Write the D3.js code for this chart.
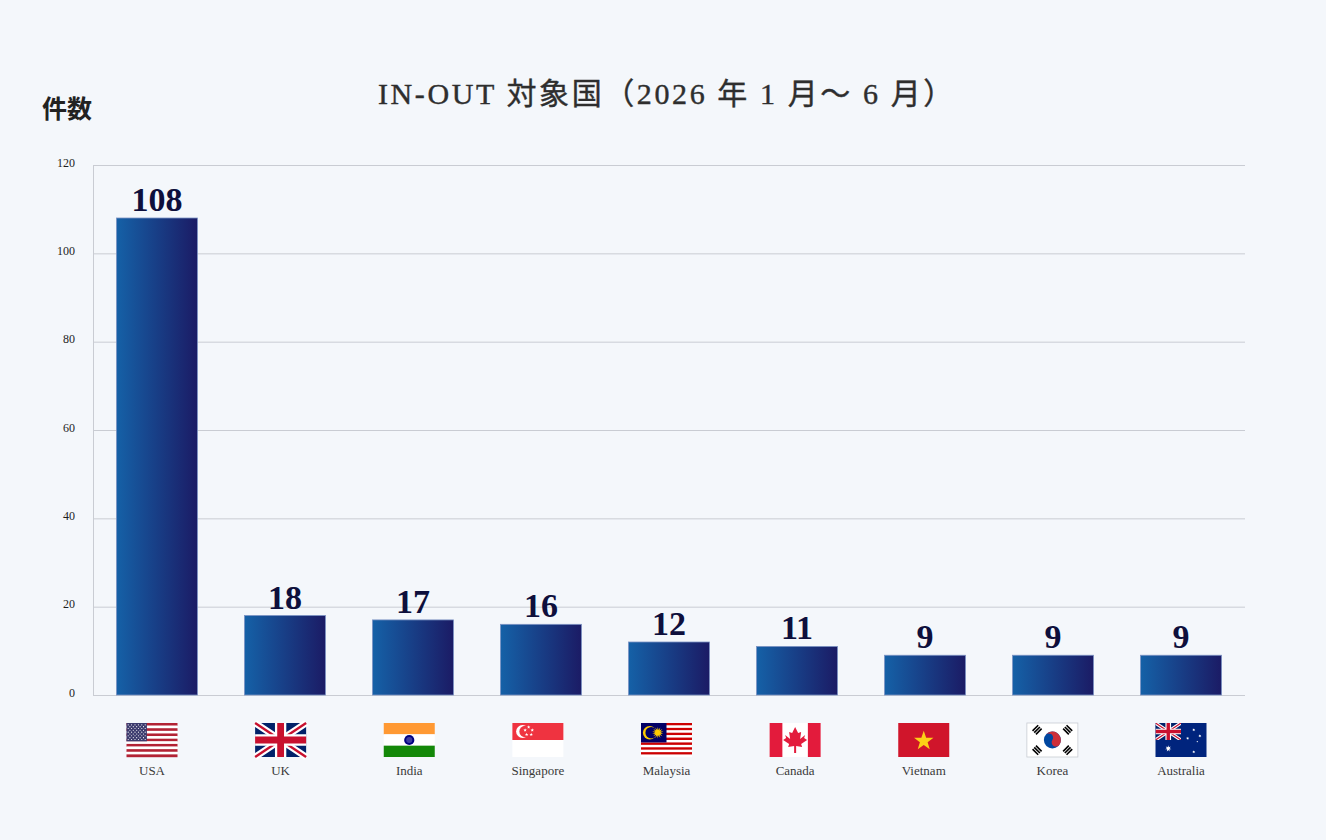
<!DOCTYPE html>
<html lang="ja">
<head>
<meta charset="utf-8">
<title>IN-OUT 対象国</title>
<script src="https://cdn.jsdelivr.net/npm/d3@7"></script>
<style>
  html, body { margin: 0; padding: 0; background: #f4f7fb; }
  #chart { width: 1326px; height: 840px; }
  svg { display: block; }
</style>
</head>
<body>
<div id="chart"></div>
<script>
// chart data
const countries = ["USA", "UK", "India", "Singapore", "Malaysia", "Canada", "Vietnam", "Korea", "Australia"];
const flagCodes = ["us", "gb", "in", "sg", "my", "ca", "vn", "kr", "au"];
const counts = [108, 18, 17, 16, 12, 11, 9, 9, 9];
const yTicks = [0, 20, 40, 60, 80, 100, 120];
const titleText = "IN-OUT 対象国（2026 年 1 月〜 6 月）";
const yAxisTitle = "件数";

const W = 1326, H = 840;
const margin = { top: 165, right: 81, bottom: 145, left: 93 };
const width = W - margin.left - margin.right;
const height = H - margin.top - margin.bottom;

const serif = "'Liberation Serif', 'DejaVu Serif', 'Noto Sans CJK JP', serif";

const svg = d3.select("#chart").append("svg")
  .attr("width", W)
  .attr("height", H)
  .attr("viewBox", `0 0 ${W} ${H}`);

svg.append("rect").attr("width", W).attr("height", H).attr("fill", "#f4f7fb");

// gradient for bars
const defs = svg.append("defs");
const grad = defs.append("linearGradient")
  .attr("id", "barGrad")
  .attr("x1", "0%").attr("x2", "100%")
  .attr("y1", "0%").attr("y2", "0%");
grad.append("stop").attr("offset", "0%").attr("stop-color", "#1561a7");
grad.append("stop").attr("offset", "100%").attr("stop-color", "#1b1b65");

// title
svg.append("text")
  .attr("x", W / 2 + 4)
  .attr("y", 104)
  .attr("text-anchor", "middle")
  .style("font-family", serif)
  .style("font-size", "30px")
  .style("letter-spacing", "2.6px")
  .style("fill", "#2e2e2e")
  .style("stroke", "#2e2e2e")
  .style("stroke-width", "0.4px")
  .text(titleText);

svg.append("text")
  .attr("x", 42)
  .attr("y", 118)
  .style("font-family", serif)
  .style("font-size", "25px")
  .style("font-weight", "bold")
  .style("fill", "#222")
  .text(yAxisTitle);

const g = svg.append("g")
  .attr("transform", `translate(${margin.left},${margin.top})`);

// scales
const x = d3.scaleBand()
  .domain(countries)
  .range([0, width])
  .paddingInner(0.367)
  .paddingOuter(0.183);

// flags/names sit on a slightly different spacing than the bars
const xFlag = d3.scalePoint()
  .domain(countries)
  .range([59, 1088]);

const y = d3.scaleLinear()
  .domain([0, 120])
  .range([height, 0]);

// gridlines + y axis
const yAxis = g.append("g")
  .call(d3.axisLeft(y).tickValues(yTicks).tickSize(-width).tickPadding(18));
yAxis.select(".domain").attr("stroke", "#c9ccd3");
yAxis.selectAll(".tick line").attr("stroke", "#c9ccd3");
yAxis.selectAll(".tick text")
  .style("font-family", serif)
  .style("font-size", "12px")
  .style("fill", "#1e1e1e")
  .attr("dy", "0.1em");

// bars
g.selectAll(".bar")
  .data(countries)
  .enter().append("rect")
  .attr("class", "bar")
  .attr("x", d => x(d))
  .attr("y", (d, i) => y(counts[i]))
  .attr("width", x.bandwidth())
  .attr("height", (d, i) => height - y(counts[i]))
  .attr("fill", "url(#barGrad)")
  .attr("stroke", "#7c93c4")
  .attr("stroke-width", 0.8);

// value labels
g.selectAll(".label")
  .data(countries)
  .enter().append("text")
  .attr("class", "label")
  .attr("x", d => x(d) + x.bandwidth() / 2)
  .attr("y", (d, i) => y(counts[i]) - 7)
  .attr("text-anchor", "middle")
  .style("font-family", serif)
  .style("font-size", "34px")
  .style("font-weight", "bold")
  .style("fill", "#0e0f3c")
  .text((d, i) => counts[i]);

// flag drawing helpers
function star(cx, cy, R, r, n = 5, rot = -90) {
  const pts = [];
  for (let k = 0; k < n * 2; k++) {
    const rad = k % 2 === 0 ? R : r;
    const a = (rot + k * 180 / n) * Math.PI / 180;
    pts.push([cx + rad * Math.cos(a), cy + rad * Math.sin(a)]);
  }
  return "M" + pts.map(p => p.join(",")).join("L") + "Z";
}

function unionJack(f, w, h) {
  f.append("rect").attr("width", w).attr("height", h).attr("fill", "#012169");
  f.append("path").attr("d", `M0,0L${w},${h}M${w},0L0,${h}`)
    .attr("stroke", "#fff").attr("stroke-width", h * 0.2);
  f.append("path").attr("d", `M0,0L${w},${h}M${w},0L0,${h}`)
    .attr("stroke", "#c8102e").attr("stroke-width", h * 0.07);
  f.append("path").attr("d", `M${w / 2},0V${h}M0,${h / 2}H${w}`)
    .attr("stroke", "#fff").attr("stroke-width", h / 3);
  f.append("path").attr("d", `M${w / 2},0V${h}M0,${h / 2}H${w}`)
    .attr("stroke", "#c8102e").attr("stroke-width", h / 5);
}

function drawFlag(f, code, w, h) {
  if (code === "us") {
    for (let k = 0; k < 13; k++) {
      f.append("rect").attr("y", k * h / 13).attr("width", w).attr("height", h / 13 + 0.2)
        .attr("fill", k % 2 === 0 ? "#b22234" : "#fff");
    }
    f.append("rect").attr("width", w * 0.4).attr("height", h * 7 / 13).attr("fill", "#3c3b6e");
    for (let r = 0; r < 9; r++) {
      for (let c = 0; c < (r % 2 ? 5 : 6); c++) {
        f.append("circle")
          .attr("cx", w * 0.4 * ((r % 2 ? 2 : 1) + c * 2) / 12)
          .attr("cy", h * 7 / 13 * (r + 1) / 10)
          .attr("r", 0.55).attr("fill", "#fff");
      }
    }
  } else if (code === "gb") {
    unionJack(f, w, h);
  } else if (code === "in") {
    f.append("rect").attr("width", w).attr("height", h / 3).attr("fill", "#ff9933");
    f.append("rect").attr("y", h / 3).attr("width", w).attr("height", h / 3).attr("fill", "#fff");
    f.append("rect").attr("y", 2 * h / 3).attr("width", w).attr("height", h / 3).attr("fill", "#138808");
    f.append("circle").attr("cx", w / 2).attr("cy", h / 2).attr("r", h * 0.15).attr("fill", "#000080");
    f.append("circle").attr("cx", w / 2).attr("cy", h / 2).attr("r", h * 0.09).attr("fill", "#3a3aa0");
  } else if (code === "sg") {
    f.append("rect").attr("width", w).attr("height", h).attr("fill", "#fff");
    f.append("rect").attr("width", w).attr("height", h / 2).attr("fill", "#ef3340");
    f.append("circle").attr("cx", w * 0.2).attr("cy", h * 0.25).attr("r", h * 0.19).attr("fill", "#fff");
    f.append("circle").attr("cx", w * 0.25).attr("cy", h * 0.25).attr("r", h * 0.17).attr("fill", "#ef3340");
    [[0.3, 0.12], [0.37, 0.21], [0.35, 0.34], [0.26, 0.34], [0.23, 0.21]].forEach(p => {
      f.append("path").attr("d", star(w * p[0] + 1, h * p[1], 1.8, 0.8)).attr("fill", "#fff");
    });
  } else if (code === "my") {
    for (let k = 0; k < 14; k++) {
      f.append("rect").attr("y", k * h / 14).attr("width", w).attr("height", h / 14 + 0.2)
        .attr("fill", k % 2 === 0 ? "#cc0001" : "#fff");
    }
    f.append("rect").attr("width", w / 2).attr("height", h * 8 / 14).attr("fill", "#010066");
    f.append("circle").attr("cx", w * 0.17).attr("cy", h * 0.285).attr("r", h * 0.2).attr("fill", "#fc0");
    f.append("circle").attr("cx", w * 0.2).attr("cy", h * 0.285).attr("r", h * 0.17).attr("fill", "#010066");
    f.append("path").attr("d", star(w * 0.33, h * 0.285, h * 0.17, h * 0.08, 14)).attr("fill", "#fc0");
  } else if (code === "ca") {
    f.append("rect").attr("width", w).attr("height", h).attr("fill", "#fff");
    f.append("rect").attr("width", w / 4).attr("height", h).attr("fill", "#e31b3c");
    f.append("rect").attr("x", w * 0.75).attr("width", w / 4).attr("height", h).attr("fill", "#e31b3c");
    const cx = w / 2, cy = h / 2, s = h / 34;
    const leaf = [[0, -13], [3, -7], [6, -8], [5, -1], [10, -5], [9, -2], [12, 0], [6, 4], [7, 7],
      [1, 6], [1, 13], [-1, 13], [-1, 6], [-7, 7], [-6, 4], [-12, 0], [-9, -2], [-10, -5],
      [-5, -1], [-6, -8], [-3, -7]];
    f.append("path")
      .attr("d", "M" + leaf.map(p => [cx + p[0] * s, cy + p[1] * s].join(",")).join("L") + "Z")
      .attr("fill", "#e31b3c");
  } else if (code === "vn") {
    f.append("rect").attr("width", w).attr("height", h).attr("fill", "#d0152b");
    f.append("path").attr("d", star(w / 2, h / 2 + 1, h * 0.3, h * 0.12)).attr("fill", "#fcd116");
  } else if (code === "kr") {
    f.append("rect").attr("width", w).attr("height", h).attr("fill", "#fff")
      .attr("stroke", "#c9ccd3").attr("stroke-width", 0.8);
    const cx = w / 2, cy = h / 2, r = h * 0.25;
    f.append("circle").attr("cx", cx).attr("cy", cy).attr("r", r).attr("fill", "#0047a0");
    f.append("path")
      .attr("d", `M${cx - r},${cy}A${r},${r} 0 0 1 ${cx + r},${cy}A${r / 2},${r / 2} 0 0 1 ${cx},${cy}A${r / 2},${r / 2} 0 0 0 ${cx - r},${cy}Z`)
      .attr("fill", "#cd2e3a")
      .attr("transform", `rotate(33.7,${cx},${cy})`);
    // trigrams
    [[-1, -1], [1, -1], [-1, 1], [1, 1]].forEach(([sx, sy]) => {
      const tx = cx + sx * w * 0.3, ty = cy + sy * h * 0.3;
      const ang = Math.atan2(sy, sx) * 180 / Math.PI + 90;
      for (let k = -1; k <= 1; k++) {
        f.append("rect")
          .attr("x", tx - 4).attr("y", ty + k * 2.4 - 0.8)
          .attr("width", 8).attr("height", 1.6)
          .attr("fill", "#000")
          .attr("transform", `rotate(${ang},${tx},${ty})`);
      }
    });
  } else if (code === "au") {
    f.append("rect").attr("width", w).attr("height", h).attr("fill", "#00247d");
    const uj = f.append("g");
    uj.append("clipPath").attr("id", "ujClip")
      .append("rect").attr("width", w / 2).attr("height", h / 2);
    const inner = uj.append("g").attr("clip-path", "url(#ujClip)");
    unionJack(inner, w / 2, h / 2);
    f.append("path").attr("d", star(w * 0.25, h * 0.75, 3.2, 1.4, 7)).attr("fill", "#fff");
    [[0.75, 0.2, 1.6], [0.63, 0.45, 1.6], [0.87, 0.38, 1.6], [0.75, 0.85, 1.6], [0.82, 0.55, 0.9]].forEach(p => {
      f.append("path").attr("d", star(w * p[0], h * p[1], p[2], p[2] * 0.45, 7)).attr("fill", "#fff");
    });
  }
}

// x axis: flags + country names
const flagW = 51, flagH = 34;
const xLabels = g.selectAll(".xlab")
  .data(countries)
  .enter().append("g")
  .attr("class", "xlab")
  .attr("transform", d => `translate(${xFlag(d)},${height})`);

xLabels.each(function (d, i) {
  const f = d3.select(this).append("g")
    .attr("transform", `translate(${-flagW / 2},28)`);
  drawFlag(f, flagCodes[i], flagW, flagH);
});

xLabels.append("text")
  .attr("y", 80)
  .attr("text-anchor", "middle")
  .style("font-family", serif)
  .style("font-size", "13px")
  .style("fill", "#3a3a3a")
  .text(d => d);
</script>
</body>
</html>
